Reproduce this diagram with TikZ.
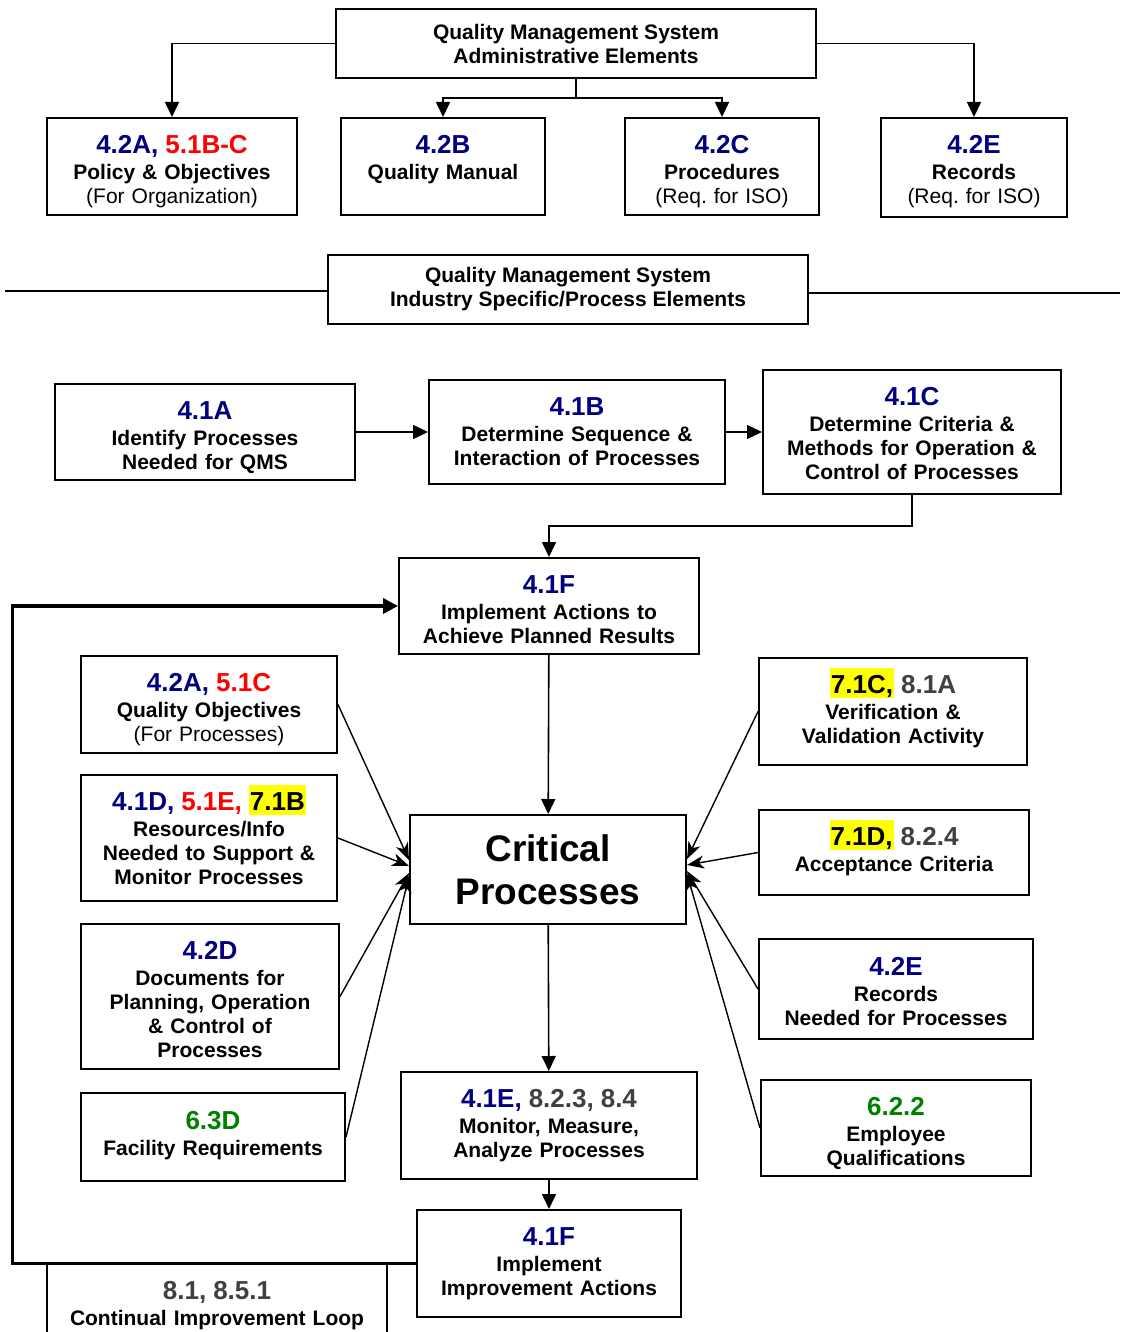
\documentclass[tikz,border=0pt]{standalone}
\usepackage{fontspec}
\setmainfont{Liberation Sans}
\usetikzlibrary{arrows.meta,calc}
\definecolor{qblue}{RGB}{0,0,128}
\definecolor{qred}{RGB}{255,0,0}
\definecolor{qgreen}{RGB}{0,128,0}
\definecolor{qgray}{RGB}{64,64,64}
\definecolor{qyellow}{RGB}{255,255,0}
\newcommand{\qcode}[1]{{\fontsize{26}{26}\selectfont #1}\\[2.2pt]}
\newcommand{\yel}[1]{{\setlength{\fboxsep}{1pt}\colorbox{qyellow}{\rule[-3.7pt]{0pt}{28pt}#1}}}
\frenchspacing

\begin{document}
\begin{tikzpicture}[x=1pt,y=-1pt,
	qbox/.style={draw, line width=2pt, inner sep=0pt, anchor=north west, align=center, text height=35.3pt, font=\fontsize{21}{24}\selectfont\bfseries},
	hbox/.style={draw, line width=2pt, inner sep=0pt, align=center, font=\fontsize{21}{24}\selectfont\bfseries},
	plain/.style={line width=1.6pt},
	arr/.style={line width=1.6pt, -{Triangle[length=15pt,width=14pt]}},
	spoke/.style={line width=1.4pt, -{Stealth[length=17pt,width=13pt,inset=5pt]}},
	loopline/.style={line width=3.6pt, -{Triangle[length=15pt,width=15pt]}}]
		\useasboundingbox (0,0) rectangle (1120,1332);
		% administrative elements
		\node[hbox, minimum width=480pt, minimum height=69pt] (adm) at (576,43.5) {Quality Management System\\Administrative Elements};
		\node[qbox, text width=250pt, text depth=61.7pt] (pol) at (46,117) {\qcode{\textcolor{qblue}{4.2A,} \textcolor{qred}{5.1B-C}}Policy \& Objectives\\{\mdseries (For Organization)}};
		\node[qbox, text width=204pt, text depth=61.7pt] (man) at (340,117) {\qcode{\textcolor{qblue}{4.2B}}Quality Manual};
		\node[qbox, text width=194pt, text depth=61.7pt] (proc) at (624,117) {\qcode{\textcolor{qblue}{4.2C}}Procedures\\{\mdseries (Req. for ISO)}};
		\node[qbox, text width=186pt, text depth=63.7pt] (rec) at (880,117) {\qcode{\textcolor{qblue}{4.2E}}Records\\{\mdseries (Req. for ISO)}};
		% process elements
		\node[hbox, minimum width=480pt, minimum height=69pt] (ind) at (568,289.5) {Quality Management System\\Industry Specific/Process Elements};
		\coordinate (indL) at (5,291);
		\coordinate (indR) at (1120,293);
		\node[qbox, text width=300pt, text depth=60.7pt] (a) at (54,383) {\qcode{\textcolor{qblue}{4.1A}}Identify Processes\\Needed for QMS};
		\node[qbox, text width=296pt, text depth=68.7pt] (b) at (428,379) {\qcode{\textcolor{qblue}{4.1B}}Determine Sequence \&\\Interaction of Processes};
		\node[qbox, text width=298pt, text depth=88.7pt] (c) at (762,369) {\qcode{\textcolor{qblue}{4.1C}}Determine Criteria \&\\Methods for Operation \&\\Control of Processes};
		\node[qbox, text width=300pt, text depth=60.7pt] (f) at (398,557) {\qcode{\textcolor{qblue}{4.1F}}Implement Actions to\\Achieve Planned Results};
		\node[hbox, minimum width=276pt, minimum height=109pt, font=\fontsize{37}{43}\selectfont\bfseries] (crit) at (548,869.5) {Critical\\Processes};
		\node[qbox, text width=256pt, text depth=61.7pt] (qo) at (80,655) {\qcode{\textcolor{qblue}{4.2A,} \textcolor{qred}{5.1C}}Quality Objectives\\{\mdseries (For Processes)}};
		\node[qbox, text width=256pt, text depth=90.7pt] (res) at (80,774) {\qcode{\textcolor{qblue}{4.1D,} \textcolor{qred}{5.1E,} \yel{7.1B}}Resources/Info\\Needed to Support \&\\Monitor Processes};
		\node[qbox, text width=258pt, text depth=109.7pt] (docs) at (80,923) {\qcode{\textcolor{qblue}{4.2D}}Documents for\\Planning, Operation\\\& Control of\\Processes};
		\node[qbox, text width=264pt, text height=36.3pt, text depth=51.7pt] (fac) at (80,1092) {\qcode{\textcolor{qgreen}{6.3D}}Facility Requirements};
		\node[qbox, text width=268pt, text depth=71.7pt] (vv) at (758,657) {\qcode{\yel{7.1C,} \textcolor{qgray}{8.1A}}Verification \&\\Validation Activity};
		\node[qbox, text width=270pt, text depth=49.7pt] (acc) at (758,809) {\qcode{\yel{7.1D,} \textcolor{qgray}{8.2.4}}Acceptance Criteria};
		\node[qbox, text width=274pt, text height=36.3pt, text depth=63.7pt] (rectwo) at (758,938) {\qcode{\textcolor{qblue}{4.2E}}Records\\Needed for Processes};
		\node[qbox, text width=270pt, text depth=60.7pt] (emp) at (760,1079) {\qcode{\textcolor{qgreen}{6.2.2}}Employee\\Qualifications};
		\node[qbox, text width=296pt, text depth=71.7pt] (mon) at (400,1071) {\qcode{\textcolor{qblue}{4.1E,} \textcolor{qgray}{8.2.3, 8.4}}Monitor, Measure,\\Analyze Processes};
		\node[qbox, text width=264pt, text depth=71.7pt] (imp) at (416,1209) {\qcode{\textcolor{qblue}{4.1F}}Implement\\Improvement Actions};
		\node[qbox, text width=340pt, text depth=84.7pt] (cont) at (46,1263) {\qcode{\textcolor{qgray}{8.1, 8.5.1}}Continual Improvement Loop};
		% connectors
		\draw[arr] (adm.west) -| (pol.north);
		\draw[arr] (adm.east) -| (rec.north);
		\draw[plain] (adm.south) -- ++(0,19) coordinate (split);
		\draw[arr] (split) -| (man.north);
		\draw[arr] (split) -| (proc.north);
		\draw[plain] (indL) -- (indL -| ind.west);
		\draw[plain] (ind.east |- indR) -- (indR);
		\draw[arr] (a) -- (b);
		\draw[arr] (b) -- (c);
		\draw[arr] (c.south) -- ++(0,31) -| (f.north);
		\draw[arr] (f) -- (crit);
		\draw[arr] (crit) -- (mon);
		\draw[arr] (mon) -- (imp);
		\draw[loopline] (imp.west) -- ++(-403.5,0) |- (f.west);
		\draw[spoke] (qo.east) -- ($(crit.west)+(0,-9.5)$);
		\draw[spoke] (res.east) -- ($(crit.west)+(0,-3.5)$);
		\draw[spoke] (docs.east) -- ($(crit.west)+(0,3.5)$);
		\draw[spoke] (fac.east) -- ($(crit.west)+(0,6.5)$);
		\draw[spoke] (vv.west) -- ($(crit.east)+(0,-10.5)$);
		\draw[spoke] (acc.west) -- ($(crit.east)+(0,-4.5)$);
		\draw[spoke] (rectwo.west) -- ($(crit.east)+(0,1.5)$);
		\draw[spoke] (emp.west) -- ($(crit.east)+(0,4.5)$);
	\end{tikzpicture}
\end{document}
